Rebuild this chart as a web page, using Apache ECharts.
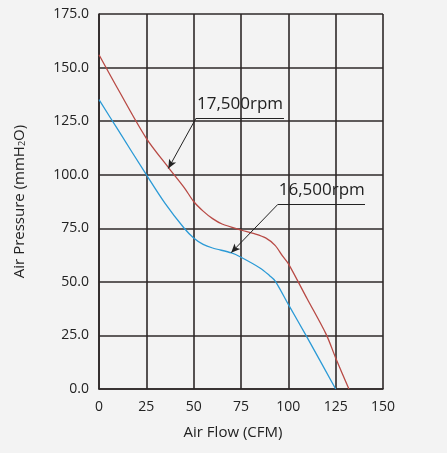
<!DOCTYPE html>
<html><head><meta charset="utf-8">
<script src="https://cdn.jsdelivr.net/npm/echarts@6/dist/echarts.min.js"></script>
<style>html,body{margin:0;padding:0;background:#f3f3f3}#c{width:447px;height:453px}</style>
</head><body><div id="c"></div>
<script>
const xTicks = [0, 25, 50, 75, 100, 125, 150];
const yTicks = [0, 25, 50, 75, 100, 125, 150, 175];
const rpm17500 = [[0,156],[10,140],[25,117],[37,103],[45,94],[50,87.5],[55,83],[60,79.5],[65,77],[75,74.2],[82,72.5],[88,70.5],[93,67],[97,62],[100,58.5],[110,42],[120,25.5],[125,14.5],[132,0]];
const rpm16500 = [[0,135],[10,121],[25,100],[35,86.5],[45,75],[50,70.5],[55,67.5],[60,65.8],[70,63.5],[75,61.5],[85,56.5],[90,53],[93,50.5],[100,39.5],[110,24],[125,0]];
const labels = [
  {text:'17,500rpm', from:[51.2,126.3], to:[97.7,126.3], tip:[36.6,102.9]},
  {text:'16,500rpm', from:[94.4,86.1], to:[140.5,86.1], tip:[69.8,63.6]}
];
const chart = echarts.init(document.getElementById('c'));
const font = 'Open Sans';
const gridColor = '#2e2828';
function annoLines(){
  const d = [];
  labels.forEach(l => {
    d.push([{coord:l.from, symbol:'none'},{coord:l.to, symbol:'none'}]);
    d.push([{coord:l.from, symbol:'none'},{coord:l.tip, symbol:'arrow'}]);
  });
  return d;
}
chart.setOption({
  backgroundColor:'#f3f3f3',
  animation:false,
  grid:{left:99,right:64,top:14,bottom:64},
  xAxis:{type:'value',min:0,max:150,interval:25,
    name:'Air Flow (CFM)',nameLocation:'middle',nameGap:36,
    nameTextStyle:{fontFamily:font,fontSize:15,color:'#222',padding:[0,16,0,0]},
    axisLine:{lineStyle:{color:gridColor,width:1.6}},axisTick:{show:false},
    axisLabel:{fontFamily:font,fontSize:14,color:'#222',margin:11},
    splitLine:{show:true,lineStyle:{color:gridColor,width:1.6}}},
  yAxis:{type:'value',min:0,max:175,interval:25,
    name:'Air Pressure (mmH{sub|2}O)',nameLocation:'middle',nameGap:72,
    nameTextStyle:{fontFamily:font,fontSize:15,color:'#222',
      rich:{sub:{fontFamily:font,fontSize:9,color:'#222',verticalAlign:'bottom',padding:[6,0,0,0]}}},
    axisLine:{show:true,lineStyle:{color:gridColor,width:1.6}},axisTick:{show:false},
    axisLabel:{fontFamily:font,fontSize:14,color:'#222',margin:10,formatter:v=>v.toFixed(1)},
    splitLine:{show:true,lineStyle:{color:gridColor,width:1.6}}},
  series:[
    {type:'line',data:rpm17500,smooth:0.3,showSymbol:false,
     lineStyle:{color:'#b84a45',width:1.3},
     markLine:{silent:true,animation:false,symbolSize:[6,9],label:{show:false},
       lineStyle:{color:'#222',width:1,type:'solid'},data:annoLines()}},
    {type:'line',data:rpm16500,smooth:0.3,showSymbol:false,
     lineStyle:{color:'#2b9ad6',width:1.3}}
  ]
});
const g = labels.map(l => {
  const p = chart.convertToPixel({gridIndex:0}, l.from);
  return {type:'text',left:p[0]+1,top:p[1]-23,style:{text:l.text,fontFamily:font,fontSize:17,fill:'#222'}};
});
chart.setOption({graphic:g});
</script></body></html>
